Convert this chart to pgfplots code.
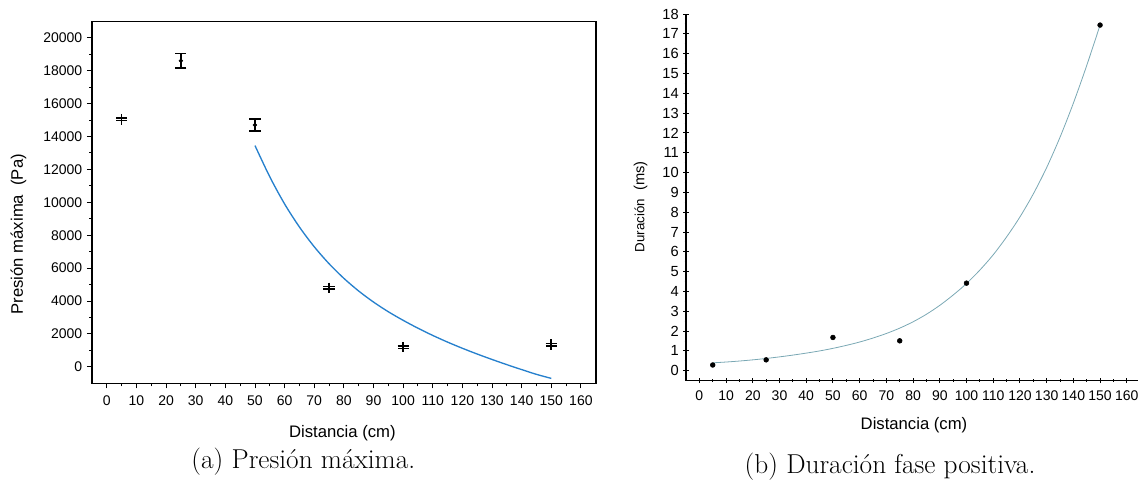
\documentclass[border=0pt]{standalone}
\usepackage{pgfplots}
\pgfplotsset{compat=1.18}
\usepackage{fontspec}
\newfontfamily\arial{Liberation Sans}
\definecolor{fitblue}{RGB}{38,128,205}
\definecolor{fitteal}{RGB}{122,168,180}

\pgfplotsset{
  origin/.style={
    scale only axis,
    anchor=south west,
    xmin=-5, xmax=165,
    xtick={0,10,...,160},
    minor x tick num=1,
    tick align=outside,
    major tick length=3.8pt,
    minor tick length=2.2pt,
    tick style={black, line width=0.7pt},
    /pgf/number format/assume math mode=true,
    /pgf/number format/1000 sep={},
    label style={font=\arial\fontsize{12.5}{14}\selectfont},
    xticklabel style={yshift=-2pt},
  },
  errpts/.style={black,
    error bars/.cd, y dir=both, y explicit,
    error bar style={line width=1.1pt, black},
    error mark options={rotate=90, mark size=4.2pt, line width=1.1pt, black}},
}

\begin{document}
\begin{tikzpicture}
\useasboundingbox (0,0) rectangle (853.5pt,363pt);

% (a) presion maxima
\begin{axis}[origin,
  at={(69pt,75.5pt)},
  width=377.8pt, height=271.5pt,
  ymin=-1000, ymax=21000,
  ytick={0,2000,...,20000},
  minor y tick num=1,
  tick pos=left,
  scaled y ticks=false,
  axis line style={line width=1.2pt},
  ticklabel style={font=\arial\fontsize{10.5}{12}\selectfont},
  xlabel={Distancia (cm)},
  ylabel={Presión máxima\ \ (Pa)},
  xlabel style={at={(axis description cs:0.497,-0.137)}, anchor=center},
  ylabel style={at={(axis description cs:-0.146,0.412)}, anchor=center},
]
% points with visible error bars
\addplot[only marks, mark=*, mark size=1.4pt, errpts] coordinates {
  (25,18600) +- (0,440)
  (50,14700) +- (0,370)
};
% points with small error bars (drawn as a cross)
\addplot[only marks, mark=|, mark size=4pt, mark options={line width=1.2pt}, errpts]
  coordinates {
  (5,15050) +- (0,70)
  (75,4800) +- (0,70)
  (100,1200) +- (0,70)
  (150,1350) +- (0,70)
};
\addplot[fitblue, line width=1pt, smooth] coordinates {
  (50,13450) (55,11550) (60,9900) (65,8500) (70,7300) (75,6270)
  (80,5380) (85,4610) (90,3940) (95,3350) (100,2830) (105,2350)
  (110,1910) (115,1505) (120,1130) (125,780) (130,450) (135,135)
  (140,-165) (145,-455) (150,-700)
};
\end{axis}

% (b) duracion fase positiva
\begin{axis}[origin,
  at={(514.5pt,77.5pt)},
  width=340.6pt, height=275pt,
  ymin=-0.5, ymax=18,
  ytick={0,1,...,18},
  minor y tick num=1,
  axis x line=bottom, axis y line=left,
  axis line style={-, line width=0.8pt},
  xticklabel style={font=\arial\fontsize{10.5}{12}\selectfont},
  yticklabel style={font=\arial\fontsize{11}{12}\selectfont},
  xlabel={Distancia (cm)},
  ylabel={{\fontsize{10}{11}\selectfont Duración}\ \ (ms)},
  xlabel style={at={(axis description cs:0.502,-0.121)}, anchor=center},
  ylabel style={at={(axis description cs:-0.0998,0.4745)}, anchor=center,
    font=\arial\fontsize{11}{12}\selectfont},
]
\addplot[only marks, mark=*, mark size=1.8pt, black] coordinates {
  (5,0.29) (25,0.55) (50,1.68) (75,1.51) (100,4.42) (150,17.44)
};
\addplot[fitteal, line width=0.6pt, smooth] coordinates {
  (5,0.40) (10,0.44) (15,0.49) (20,0.55) (25,0.62) (30,0.70) (35,0.79)
  (40,0.89) (45,1.00) (50,1.13) (55,1.28) (60,1.45) (65,1.65) (70,1.88)
  (75,2.15) (80,2.47) (85,2.85) (90,3.30) (95,3.82) (100,4.40) (105,5.08)
  (110,5.85) (115,6.75) (120,7.76) (125,8.92) (130,10.25) (135,11.78)
  (140,13.50) (145,15.40) (150,17.44)
};
\end{axis}

\node[font=\fontsize{20.5}{23}\selectfont] at (227.5pt,16.5pt) {(a) Presión máxima.};
\node[font=\fontsize{20.5}{23}\selectfont] at (667.5pt,13pt) {(b) Duración fase positiva.};
\end{tikzpicture}
\end{document}
